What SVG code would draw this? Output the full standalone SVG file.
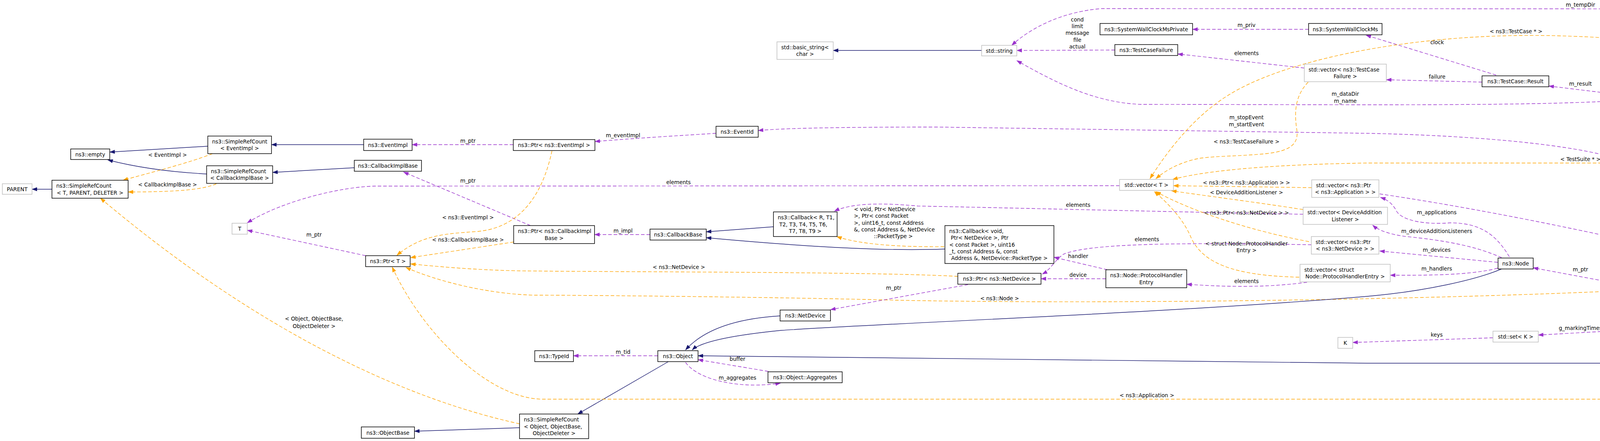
<svg xmlns="http://www.w3.org/2000/svg" width="5285" height="1128" viewBox="0 0 5285 1128">
<defs>
<style>
text{font-family:"DejaVu Sans","Liberation Sans",sans-serif;font-size:13.5px;fill:#000}
.c{text-anchor:middle}
.n rect{fill:#fff;stroke:#000;stroke-width:1.5}
.g rect{fill:#fff;stroke:#bfbfbf;stroke-width:1.5}
.h rect{fill:#bfbfbf;stroke:#000;stroke-width:1.5}
.inh{fill:none;stroke:#191970;stroke-width:1.4;marker-end:url(#aN)}
.mem{fill:none;stroke:#9a32cd;stroke-width:1.4;stroke-dasharray:9,5;marker-end:url(#aP)}
.tpl{fill:none;stroke:#ffa500;stroke-width:1.4;stroke-dasharray:9,5;marker-end:url(#aO)}
</style>
<marker id="aN" markerUnits="userSpaceOnUse" markerWidth="14" markerHeight="10" refX="13" refY="5" orient="auto"><path d="M0,0 L14,5 L0,10 z" fill="#191970"/></marker>
<marker id="aP" markerUnits="userSpaceOnUse" markerWidth="14" markerHeight="10" refX="13" refY="5" orient="auto"><path d="M0,0 L14,5 L0,10 z" fill="#9a32cd"/></marker>
<marker id="aO" markerUnits="userSpaceOnUse" markerWidth="14" markerHeight="10" refX="13" refY="5" orient="auto"><path d="M0,0 L14,5 L0,10 z" fill="#ffa500"/></marker>
</defs>
<rect x="0" y="0" width="5285" height="1128" fill="#fff"/>
<g id="connectors">
<path class="inh" d="M133,484 L82,484"/>
<path class="inh" d="M532,374 L281,389"/>
<path class="inh" d="M529,445 C455,441 360,431 276,409"/>
<path class="inh" d="M931,370 L695,370"/>
<path class="inh" d="M907,429 L698,441"/>
<path class="tpl" d="M544,393 C480,418 390,440 315,461"/>
<path class="tpl" d="M554,470 C525,483 470,491 328,491"/>
<path class="tpl" d="M1330,1084 C1080,1030 700,880 257,507"/>
<path class="inh" d="M1711,925 L1479,1059"/>
<path class="inh" d="M1330,1094 L1061,1103"/>
<path class="mem" d="M1684,910 L1468,910"/>
<path class="mem" d="M1314,370 L1055,370"/>
<path class="mem" d="M1833,341 C1720,348 1620,354 1523,362"/>
<path class="mem" d="M1358,577 L1033,440"/>
<path class="mem" d="M1664,600 L1522,600"/>
<path class="tpl" d="M1413,386 C1395,470 1350,580 1223,592 C1140,598 1080,600 1016,653"/>
<path class="tpl" d="M1315,619 L1051,659"/>
<path class="mem" d="M936,654 L633,589"/>
<path class="mem" d="M2866,475 L960,476 C870,478 720,515 633,570"/>
<path class="tpl" d="M2452,707 C2250,695 1600,696 1350,693 C1250,692 1150,685 1051,675"/>
<path class="tpl" d="M4120,745 C3600,768 2800,778 2300,768 C2000,760 1500,755 1367,755 C1250,752 1120,720 1039,684"/>
<path class="tpl" d="M4887,812 C4830,920 4700,1021 4569,1021 L1390,1021 C1250,1021 1080,850 1004,683"/>
<path class="inh" d="M1980,580 L1808,593"/>
<path class="inh" d="M2419,637 C2250,643 2050,630 1808,608"/>
<path class="tpl" d="M2417,631 C2300,632 2200,625 2142,605"/>
<path class="mem" d="M3336,548 C3000,542 2600,532 2350,527 C2250,518 2180,520 2136,540"/>
<path class="mem" d="M2478,728 L2126,792"/>
<path class="inh" d="M1997,808 C1880,815 1800,845 1755,895"/>
<path class="inh" d="M3844,688 C3780,715 3650,745 3500,758 C3000,800 2300,825 2000,845 C1900,855 1800,870 1772,895"/>
<path class="inh" d="M4534,812 C4480,870 4350,929 4223,929 L3500,929 L1787,910"/>
<path class="mem" d="M1967,950 L1787,920"/>
<path class="mem" d="M1755,927 C1790,975 1900,995 1998,980"/>
<path class="mem" d="M2835,690 L2698,658"/>
<path class="mem" d="M2831,713 L2665,713"/>
<path class="mem" d="M3357,626 C3100,622 2800,618 2723,650 C2700,665 2690,690 2668,701"/>
<path class="mem" d="M3346,722 C3250,735 3150,735 3038,727"/>
<path class="mem" d="M3864,657 C3830,600 3790,570 3712,570 C3650,575 3590,565 3575,540 C3565,520 3550,510 3534,505"/>
<path class="mem" d="M3844,659 C3780,630 3700,615 3600,605 C3560,600 3530,590 3514,576"/>
<path class="mem" d="M3834,671 L3532,642"/>
<path class="mem" d="M3834,686 C3760,705 3650,704 3559,704"/>
<path class="mem" d="M4134,724 L3925,685"/>
<path class="mem" d="M4491,786 L4301,756"/>
<path class="mem" d="M4491,807 L4258,835"/>
<path class="mem" d="M4169,844 L3938,857"/>
<path class="mem" d="M3822,864 L3463,876"/>
<path class="mem" d="M4792,799 L4620,799"/>
<path class="mem" d="M3532,496 C3900,550 4400,660 4837,782"/>
<path class="mem" d="M4544,782 C4480,680 4250,470 4100,395 C3950,360 3700,345 3500,341 L2400,325 C2150,325 2000,328 1941,334"/>
<path class="mem" d="M4534,381 L4232,725"/>
<path class="inh" d="M4476,334 L4263,270"/>
<path class="inh" d="M4497,288 L4273,261"/>
<path class="mem" d="M4273,251 L5121,245"/>
<path class="mem" d="M4278,238 C4350,215 4420,200 4510,176"/>
<path class="mem" d="M4437,166 C4370,172 4300,190 4241,237"/>
<path class="mem" d="M4230,238 C4232,205 4190,205 4189,238"/>
<path class="mem" d="M4154,243 L3965,220"/>
<path class="mem" d="M3794,210 L3549,204"/>
<path class="mem" d="M3830,192 L3497,90"/>
<path class="mem" d="M3350,75 L3053,75"/>
<path class="mem" d="M3339,174 L3015,138"/>
<path class="mem" d="M2854,128 L2603,129"/>
<path class="mem" d="M4154,257 C4000,266 3800,268 3500,268 L2920,267 C2800,262 2700,210 2603,155"/>
<path class="mem" d="M5189,228 C5130,110 5050,25 4919,23 L2820,22 C2720,30 2640,70 2590,116"/>
<path class="inh" d="M2513,129 L2133,129"/>
<path class="tpl" d="M4482,145 C4300,100 4000,88 3880,91 C3600,95 3300,150 3150,240 C3050,300 2980,400 2944,457"/>
<path class="tpl" d="M4874,311 C4800,375 4690,417 4569,417 L3500,417 C3300,420 3100,432 3002,459"/>
<path class="tpl" d="M3349,210 C3310,250 3315,300 3320,333 C3325,370 3300,385 3250,392 C3180,400 3120,398 3070,405 C3020,415 2985,435 2959,457"/>
<path class="tpl" d="M3358,480 L3004,475"/>
<path class="tpl" d="M3336,536 C3200,515 3080,500 2999,488"/>
<path class="tpl" d="M3351,618 C3200,590 3050,540 2959,490"/>
<path class="tpl" d="M3326,709 C3150,705 3080,670 3050,610 C3030,560 2990,520 2955,490"/>
<path class="mem" d="M4797,296 L4616,296"/>
<path class="mem" d="M5162,259 C5120,280 5060,288 5001,292"/>
<text class="c" x="429" y="401">&lt; EventImpl &gt;</text>
<text class="c" x="429" y="477">&lt; CallbackImplBase &gt;</text>
<text class="c" x="804" y="820">&lt; Object, ObjectBase,</text>
<text class="c" x="804" y="839">ObjectDeleter &gt;</text>
<text class="c" x="804" y="605">m_ptr</text>
<text class="c" x="1198" y="365">m_ptr</text>
<text class="c" x="1595" y="351">m_eventImpl</text>
<text class="c" x="1198" y="467">m_ptr</text>
<text class="c" x="1737" y="471">elements</text>
<text class="c" x="1198" y="561">&lt; ns3::EventImpl &gt;</text>
<text class="c" x="1198" y="618">&lt; ns3::CallbackImplBase &gt;</text>
<text class="c" x="1595" y="595">m_impl</text>
<text class="c" x="1738" y="688">&lt; ns3::NetDevice &gt;</text>
<text class="c" x="1595" y="905">m_tid</text>
<text class="c" x="1888" y="923">buffer</text>
<text class="c" x="1888" y="971">m_aggregates</text>
<text class="c" x="2288" y="741">m_ptr</text>
<text class="c" x="2559" y="768">&lt; ns3::Node &gt;</text>
<text x="2186" y="540">&lt; void, Ptr&lt; NetDevice</text>
<text x="2186" y="557">&gt;, Ptr&lt; const Packet</text>
<text x="2186" y="575">&gt;, uint16_t, const Address</text>
<text x="2186" y="592">&amp;, const Address &amp;, NetDevice</text>
<text class="c" x="2287" y="609">::PacketType &gt;</text>
<text class="c" x="2936" y="1016">&lt; ns3::Application &gt;</text>
<text class="c" x="2758" y="55">cond</text>
<text class="c" x="2758" y="72">limit</text>
<text class="c" x="2758" y="89">message</text>
<text class="c" x="2758" y="107">file</text>
<text class="c" x="2758" y="124">actual</text>
<text class="c" x="3191" y="69">m_priv</text>
<text class="c" x="3191" y="141">elements</text>
<text class="c" x="3444" y="245">m_dataDir</text>
<text class="c" x="3444" y="263">m_name</text>
<text class="c" x="3191" y="305">m_stopEvent</text>
<text class="c" x="3191" y="323">m_startEvent</text>
<text class="c" x="3191" y="367">&lt; ns3::TestCaseFailure &gt;</text>
<text class="c" x="3191" y="472">&lt; ns3::Ptr&lt; ns3::Application &gt; &gt;</text>
<text class="c" x="3191" y="497">&lt; DeviceAdditionListener &gt;</text>
<text class="c" x="2760" y="529">elements</text>
<text class="c" x="3191" y="549">&lt; ns3::Ptr&lt; ns3::NetDevice &gt; &gt;</text>
<text class="c" x="2936" y="617">elements</text>
<text class="c" x="3191" y="628">&lt; struct Node::ProtocolHandler</text>
<text class="c" x="3191" y="645">Entry &gt;</text>
<text class="c" x="2760" y="660">handler</text>
<text class="c" x="2760" y="708">device</text>
<text class="c" x="3191" y="724">elements</text>
<text class="c" x="3881" y="85">&lt; ns3::TestCase * &gt;</text>
<text class="c" x="4046" y="17">m_tempDir</text>
<text class="c" x="3679" y="113">clock</text>
<text class="c" x="3679" y="201">failure</text>
<text class="c" x="4046" y="219">m_result</text>
<text class="c" x="4215" y="209">m_parent</text>
<text class="c" x="4371" y="165">elements</text>
<text class="c" x="4371" y="201">m_children</text>
<text class="c" x="4734" y="243">m_runner</text>
<text class="c" x="4736" y="291">elements</text>
<text class="c" x="5064" y="276">m_suites</text>
<text class="c" x="4046" y="412">&lt; TestSuite * &gt;</text>
<text class="c" x="4370" y="504">m_node</text>
<text class="c" x="4368" y="522">m_gateway</text>
<text class="c" x="3678" y="548">m_applications</text>
<text class="c" x="3678" y="596">m_deviceAdditionListeners</text>
<text class="c" x="3678" y="644">m_devices</text>
<text class="c" x="3678" y="692">m_handlers</text>
<text class="c" x="4046" y="694">m_ptr</text>
<text class="c" x="4215" y="607">elements</text>
<text class="c" x="4371" y="756">m_node</text>
<text class="c" x="4370" y="796">m_stopTime</text>
<text class="c" x="4368" y="813">m_startTime</text>
<text class="c" x="4046" y="844">g_markingTimes</text>
<text class="c" x="3678" y="861">keys</text>
<text class="c" x="4735" y="793">m_ptr</text>
</g>
<g id="n_parent" class="g"><rect x="6" y="470" width="76" height="27"/><text class="c" x="44" y="488.5">PARENT</text></g>
<g id="n_src_tpd" class="n"><rect x="133" y="461" width="195" height="46"/><text x="144" y="480.4">ns3::SimpleRefCount</text><text class="c" x="230.5" y="497.6">&lt; T, PARENT, DELETER &gt;</text></g>
<g id="n_empty" class="n"><rect x="181" y="381" width="100" height="27"/><text class="c" x="231" y="399.5">ns3::empty</text></g>
<g id="n_src_eventimpl" class="n"><rect x="532" y="348" width="163" height="45"/><text x="543" y="366.9">ns3::SimpleRefCount</text><text class="c" x="613.5" y="384.1">&lt; EventImpl &gt;</text></g>
<g id="n_src_cbib" class="n"><rect x="529" y="424" width="169" height="45"/><text x="540" y="442.9">ns3::SimpleRefCount</text><text class="c" x="613.5" y="460.1">&lt; CallbackImplBase &gt;</text></g>
<g id="n_t" class="g"><rect x="594" y="571" width="39" height="28"/><text class="c" x="613.5" y="590">T</text></g>
<g id="n_eventimpl" class="n"><rect x="931" y="356" width="124" height="29"/><text class="c" x="993" y="375.5">ns3::EventImpl</text></g>
<g id="n_cbib" class="n"><rect x="907" y="410" width="172" height="28"/><text class="c" x="993" y="429">ns3::CallbackImplBase</text></g>
<g id="n_ptr_eventimpl" class="n"><rect x="1314" y="357" width="209" height="28"/><text class="c" x="1418.5" y="376">ns3::Ptr&lt; ns3::EventImpl &gt;</text></g>
<g id="n_ptr_t" class="n"><rect x="936" y="654" width="114" height="28"/><text class="c" x="993" y="673">ns3::Ptr&lt; T &gt;</text></g>
<g id="n_ptr_cbib" class="n"><rect x="1315" y="577" width="207" height="46"/><text x="1326" y="596.4">ns3::Ptr&lt; ns3::CallbackImpl</text><text class="c" x="1418.5" y="613.7">Base &gt;</text></g>
<g id="n_callbackbase" class="n"><rect x="1664" y="586" width="144" height="28"/><text class="c" x="1736" y="605">ns3::CallbackBase</text></g>
<g id="n_typeid" class="n"><rect x="1369" y="897" width="99" height="28"/><text class="c" x="1418.5" y="916">ns3::TypeId</text></g>
<g id="n_objectbase" class="n"><rect x="925" y="1092" width="136" height="29"/><text class="c" x="993" y="1111.5">ns3::ObjectBase</text></g>
<g id="n_src_object" class="n"><rect x="1330" y="1059" width="177" height="63"/><text x="1341" y="1078.2">ns3::SimpleRefCount</text><text x="1341" y="1095.5">&lt; Object, ObjectBase,</text><text class="c" x="1418.5" y="1112.8">ObjectDeleter &gt;</text></g>
<g id="n_object" class="n"><rect x="1684" y="897" width="103" height="28"/><text class="c" x="1735.5" y="916">ns3::Object</text></g>
<g id="n_eventid" class="n"><rect x="1833" y="323" width="108" height="28"/><text class="c" x="1887" y="342">ns3::EventId</text></g>
<g id="n_basic_string" class="g"><rect x="1989" y="107" width="144" height="45"/><text x="2000" y="125.9">std::basic_string&lt;</text><text class="c" x="2061" y="143.1">char &gt;</text></g>
<g id="n_string" class="g"><rect x="2513" y="116" width="90" height="27"/><text class="c" x="2558" y="134.5">std::string</text></g>
<g id="n_callback_r" class="n"><rect x="1980" y="542" width="163" height="63"/><text x="1991" y="561.2">ns3::Callback&lt; R, T1,</text><text x="1995" y="578.5">T2, T3, T4, T5, T6,</text><text class="c" x="2061.5" y="595.8">T7, T8, T9 &gt;</text></g>
<g id="n_callback_void" class="n"><rect x="2419" y="577" width="279" height="97"/><text x="2430" y="595.9">ns3::Callback&lt; void,</text><text x="2434" y="613.2">Ptr&lt; NetDevice &gt;, Ptr</text><text x="2430" y="630.5">&lt; const Packet &gt;, uint16</text><text x="2430" y="647.8">_t, const Address &amp;, const</text><text class="c" x="2558.5" y="665.1">Address &amp;, NetDevice::PacketType &gt;</text></g>
<g id="n_netdevice" class="n"><rect x="1997" y="793" width="129" height="28"/><text class="c" x="2061.5" y="812">ns3::NetDevice</text></g>
<g id="n_aggregates" class="n"><rect x="1966" y="951" width="190" height="28"/><text class="c" x="2061" y="970">ns3::Object::Aggregates</text></g>
<g id="n_ptr_netdevice" class="n"><rect x="2452" y="699" width="213" height="28"/><text class="c" x="2558.5" y="718">ns3::Ptr&lt; ns3::NetDevice &gt;</text></g>
<g id="n_swcm_private" class="n"><rect x="2816" y="60" width="237" height="29"/><text class="c" x="2934.5" y="79.5">ns3::SystemWallClockMsPrivate</text></g>
<g id="n_testcasefailure" class="n"><rect x="2854" y="114" width="161" height="28"/><text class="c" x="2934.5" y="133">ns3::TestCaseFailure</text></g>
<g id="n_vector_t" class="g"><rect x="2866" y="459" width="138" height="28"/><text class="c" x="2935" y="478">std::vector&lt; T &gt;</text></g>
<g id="n_phe" class="n"><rect x="2831" y="690" width="207" height="46"/><text x="2842" y="709.4">ns3::Node::ProtocolHandler</text><text class="c" x="2934.5" y="726.7">Entry</text></g>
<g id="n_swcm" class="n"><rect x="3350" y="60" width="188" height="29"/><text class="c" x="3444" y="79.5">ns3::SystemWallClockMs</text></g>
<g id="n_vector_tcf" class="g"><rect x="3339" y="164" width="210" height="45"/><text x="3350" y="182.9">std::vector&lt; ns3::TestCase</text><text class="c" x="3444" y="200.1">Failure &gt;</text></g>
<g id="n_vector_ptr_app" class="g"><rect x="3358" y="460" width="172" height="45"/><text x="3369" y="478.9">std::vector&lt; ns3::Ptr</text><text class="c" x="3444" y="496.1">&lt; ns3::Application &gt; &gt;</text></g>
<g id="n_vector_dal" class="g"><rect x="3336" y="530" width="216" height="44"/><text x="3347" y="548.4">std::vector&lt; DeviceAddition</text><text class="c" x="3444" y="565.7">Listener &gt;</text></g>
<g id="n_vector_ptr_nd" class="g"><rect x="3357" y="605" width="173" height="45"/><text x="3368" y="623.9">std::vector&lt; ns3::Ptr</text><text class="c" x="3443.5" y="641.2">&lt; ns3::NetDevice &gt; &gt;</text></g>
<g id="n_vector_phe" class="g"><rect x="3328" y="676" width="231" height="45"/><text x="3339" y="694.9">std::vector&lt; struct</text><text class="c" x="3443.5" y="712.2">Node::ProtocolHandlerEntry &gt;</text></g>
<g id="n_k" class="g"><rect x="3425" y="863" width="38" height="28"/><text class="c" x="3444" y="882">K</text></g>
<g id="n_result" class="n"><rect x="3794" y="194" width="171" height="28"/><text class="c" x="3879.5" y="213">ns3::TestCase::Result</text></g>
<g id="n_node" class="n"><rect x="3835" y="660" width="90" height="28"/><text class="c" x="3880" y="679">ns3::Node</text></g>
<g id="n_set_k" class="g"><rect x="3822" y="847" width="116" height="28"/><text class="c" x="3880" y="866">std::set&lt; K &gt;</text></g>
<g id="n_testcase" class="n"><rect x="4154" y="238" width="119" height="28"/><text class="c" x="4213.5" y="257">ns3::TestCase</text></g>
<g id="n_ptr_node" class="n"><rect x="4126" y="726" width="175" height="28"/><text class="c" x="4213.5" y="745">ns3::Ptr&lt; ns3::Node &gt;</text></g>
<g id="n_time" class="n"><rect x="4169" y="827" width="89" height="28"/><text class="c" x="4213.5" y="846">ns3::Time</text></g>
<g id="n_vector_tc" class="g"><rect x="4438" y="146" width="236" height="28"/><text class="c" x="4556" y="165">std::vector&lt; ns3::TestCase * &gt;</text></g>
<g id="n_testsuite" class="n"><rect x="4497" y="282" width="119" height="28"/><text class="c" x="4556.5" y="301">ns3::TestSuite</text></g>
<g id="n_ametc" class="h"><rect x="4451" y="335" width="210" height="45"/><text x="4462" y="353.9">ns3::AcousticModemEnergy</text><text class="c" x="4556" y="371.2">TestCase</text></g>
<g id="n_vector_ts" class="g"><rect x="4797" y="282" width="204" height="28"/><text class="c" x="4899" y="301">std::vector&lt; TestSuite * &gt;</text></g>
<g id="n_testrunnerimpl" class="n"><rect x="5121" y="230" width="158" height="28"/><text class="c" x="5200" y="249">ns3::TestRunnerImpl</text></g>
<g id="n_application" class="n"><rect x="4491" y="784" width="129" height="28"/><text class="c" x="4555.5" y="803">ns3::Application</text></g>
<g id="n_ptr_app" class="n"><rect x="4792" y="784" width="212" height="28"/><text class="c" x="4898" y="803">ns3::Ptr&lt; ns3::Application &gt;</text></g>
</svg>
